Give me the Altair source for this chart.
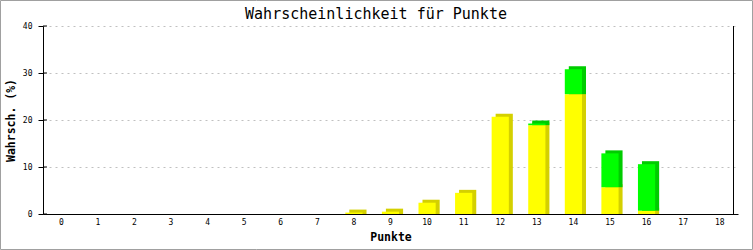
import altair as alt
import pandas as pd

titel = "Wahrscheinlichkeit für Punkte"
punkte = [str(i) for i in range(19)]
y_ticks = [0, 10, 20, 30, 40]
gelb = [0, 0, 0, 0, 0, 0, 0, 0, 0.3, 0.5, 2.4, 4.5, 20.7, 18.9, 25.5, 5.7, 0.7, 0, 0]
gruen = [0, 0, 0, 0, 0, 0, 0, 0, 0, 0, 0, 0, 0, 0.35, 5.3, 7.2, 9.9, 0, 0]

rows = []
for p, g, r in zip(punkte, gelb, gruen):
    rows.append({"Punkte": p, "serie": "gelb", "y0": 0, "y1": g})
    rows.append({"Punkte": p, "serie": "gruen", "y0": g, "y1": g + r})
df = pd.DataFrame(rows)
df = df[df["y1"] > df["y0"]]

W, H = 695, 188
FONT = "DejaVu Sans Mono"

xenc = alt.X("Punkte:N", sort=punkte,
             scale=alt.Scale(domain=punkte, paddingInner=0.53, paddingOuter=0.265),
             axis=alt.Axis(title="Punkte", labelAngle=0, ticks=False, labelPadding=4,
                           titlePadding=5, domainColor="black", labelFont=FONT,
                           labelFontSize=8, titleFont=FONT, titleFontSize=11.5,
                           titleFontWeight="bold", labelColor="black", titleColor="black"))
yscale = alt.Scale(domain=[0, 40])
yenc = alt.Y("y1:Q", scale=yscale,
             axis=alt.Axis(title="Wahrsch. (%)", values=y_ticks, tickSize=5,
                           tickColor="black", labelPadding=6, titlePadding=6,
                           domainColor="black", grid=True, gridColor="#c0c0c0",
                           gridDash=[2, 4], labelFont=FONT, labelFontSize=8,
                           titleFont=FONT, titleFontSize=11.5, titleFontWeight="bold",
                           labelColor="black", titleColor="black"))

shadow = alt.Chart(df).mark_bar(xOffset=4, yOffset=-3).encode(
    x=xenc, y=yenc, y2="y0:Q",
    color=alt.Color("serie:N", scale=alt.Scale(domain=["gelb", "gruen"],
                                               range=["#d4d000", "#00cc00"]), legend=None),
)
front = alt.Chart(df).mark_bar().encode(
    x=xenc, y=yenc, y2="y0:Q",
    color=alt.Color("serie:N", scale=alt.Scale(domain=["gelb", "gruen"],
                                               range=["#ffff00", "#00ff00"]), legend=None),
)

tick_df = pd.DataFrame({"v": y_ticks})
inner_ticks = alt.Chart(tick_df).mark_rule(color="black", strokeWidth=1).encode(
    x=alt.value(0), x2=alt.value(4), y=alt.Y("v:Q", scale=yscale)
)

one = pd.DataFrame({"t": [titel]})
right_line = alt.Chart(one).mark_rule(color="black", strokeWidth=1).encode(
    x=alt.value(W - 4.5), y=alt.value(0), y2=alt.value(H)
)
border = alt.Chart(one).mark_rect(fill=None, stroke="#a0a0a0", strokeWidth=1, clip=False).encode(
    x=alt.value(-42.5), x2=alt.value(752.5 - 43), y=alt.value(-25.5), y2=alt.value(249.5 - 26)
)
title_text = alt.Chart(one).mark_text(font=FONT, fontSize=15, color="black", align="center",
                                      baseline="alphabetic", clip=False).encode(
    x=alt.value(376 - 43), y=alt.value(19 - 26), text="t:N"
)

chart = alt.layer(shadow, front, inner_ticks, right_line, border, title_text).resolve_scale(
    color="independent").properties(
    width=W, height=H,
    autosize=alt.AutoSizeParams(type="none"),
    padding={"left": 43, "top": 26, "right": 15, "bottom": 36},
    background="white",
).configure_view(stroke=None)

chart.save("out.html", embed_options={"renderer": "svg", "actions": False})
